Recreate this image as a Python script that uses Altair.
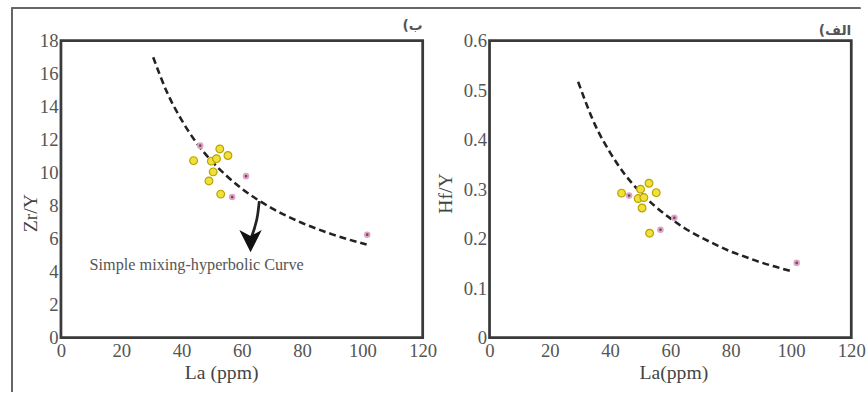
import altair as alt
import pandas as pd

# ---- data ----
# Left panel: Zr/Y vs La
zr_yellow_la = [44.0, 49.1, 50.5, 49.9, 52.7, 55.4, 53.0, 51.6]
zr_yellow_val = [10.73, 9.5, 10.05, 10.7, 11.44, 11.04, 8.7, 10.85]
zr_purple_la = [46.2, 61.4, 56.8, 101.6]
zr_purple_val = [11.64, 9.79, 8.52, 6.24]
zr_curve_la = [30.6, 35, 40, 45, 50, 55, 60, 65, 70, 75, 80, 85, 90, 95, 101.4]
zr_curve_val = [17.0, 14.95, 13.2, 11.8, 10.7, 9.8, 9.03, 8.39, 7.84, 7.37, 6.95, 6.59, 6.26, 5.97, 5.64]
arrow_la = [65.8, 65.3, 64.3, 63.2]
arrow_val = [8.27, 7.5, 6.7, 6.1]
arrowhead_la = [62.9]
arrowhead_val = [5.85]
note_text = ["Simple mixing-hyperbolic Curve"]
note_la = [9.5]
note_val = [4.41]

# Right panel: Hf/Y vs La
hf_yellow_la = [43.8, 50.1, 52.9, 55.3, 49.3, 51.2, 50.6, 53.1]
hf_yellow_val = [0.292, 0.300, 0.312, 0.293, 0.281, 0.283, 0.262, 0.211]
hf_purple_la = [46.3, 61.3, 56.7, 101.9]
hf_purple_val = [0.287, 0.242, 0.218, 0.151]
hf_curve_la = [29.4, 35, 40, 45, 50, 55, 60, 65, 70, 75, 80, 85, 90, 95, 100.8]
hf_curve_val = [0.517, 0.43, 0.374, 0.329, 0.294, 0.265, 0.241, 0.220, 0.203, 0.188, 0.174, 0.163, 0.152, 0.143, 0.133]

x_ticks = [0, 20, 40, 60, 80, 100, 120]
zr_ticks = [0, 2, 4, 6, 8, 10, 12, 14, 16, 18]
hf_ticks = [0, 0.1, 0.2, 0.3, 0.4, 0.5, 0.6]
panel_labels = ["ب)\u200f", "الف)\u200f"]

SERIF = "Liberation Serif, Times New Roman, serif"
W, H = 368, 302

def df(xs, ys):
    return pd.DataFrame({"x": xs, "y": ys})

def make_axes(yticks, ytitle, xtitle, xtitle_x, ytitle_x, ytitle_y, ylabel_expr):
    xax = alt.Axis(values=x_ticks, title=xtitle, titleX=xtitle_x, titleY=26,
                   titleFont=SERIF, titleFontSize=20, titleFontWeight="normal",
                   titleColor="#444", labelFont=SERIF, labelFontSize=19,
                   labelColor="#555", ticks=False, domain=False, grid=False,
                   labelPadding=4, labelFlush=False, labelOverlap=False)
    yax = alt.Axis(values=yticks, title=ytitle, titleX=ytitle_x, titleY=ytitle_y,
                   titleFont=SERIF, titleFontSize=20, titleFontWeight="normal",
                   titleColor="#444", labelFont=SERIF, labelFontSize=19,
                   labelColor="#555", ticks=False, domain=False, grid=False,
                   labelPadding=3, labelExpr=ylabel_expr, labelFlush=False,
                   labelOverlap=False)
    return xax, yax

def panel(ydom, axes, curve, yellow, purple, label, label_y, extra=None,
          frame_left=None, top_span=(0, 0)):
    xax, yax = axes
    xs = alt.Scale(domain=[0, 120], nice=False)
    ys = alt.Scale(domain=ydom, nice=False)
    X = alt.X("x:Q", scale=xs, axis=xax)
    Y = alt.Y("y:Q", scale=ys, axis=yax)

    line = alt.Chart(curve).mark_line(color="#222", strokeWidth=2.6,
                                      strokeDash=[7, 4], interpolate="monotone").encode(
        x=X, y=Y)
    yel = alt.Chart(yellow).mark_point(shape="circle", filled=True, size=62,
                                       fill="#f1e03a", stroke="#b7a300",
                                       strokeWidth=1.2, opacity=1).encode(x=X, y=Y)
    pur = alt.Chart(purple).mark_point(shape="circle", filled=True, size=22,
                                       fill="#8a3a68", stroke="#d9a7c4",
                                       strokeWidth=2, opacity=1).encode(x=X, y=Y)
    layers = [line, yel, pur]
    if extra:
        layers += [e(X, Y) for e in extra]
    lab = alt.Chart(pd.DataFrame({"t": [label]})).mark_text(
        align="right", baseline="middle", font="DejaVu Sans", fontSize=14,
        fontWeight="bold", color="#555").encode(
        text="t:N", x=alt.value(W), y=alt.value(label_y))
    layers.append(lab)
    top_rule = alt.Chart(curve).mark_rule(color="#666", strokeWidth=1.5).encode(
        x=alt.value(top_span[0]), x2=alt.value(top_span[1]), y=alt.value(-33))
    layers.append(top_rule)
    if frame_left is not None:
        left_rule = alt.Chart(curve).mark_rule(color="#666", strokeWidth=1.5).encode(
            x=alt.value(frame_left), y=alt.value(-33), y2=alt.value(357))
        layers.append(left_rule)
    return alt.layer(*layers).properties(width=W, height=H)

def arrow_line(X, Y):
    return alt.Chart(df(arrow_la, arrow_val)).mark_line(
        color="#222", strokeWidth=2.8, interpolate="monotone").encode(x=X, y=Y)

def arrow_head(X, Y):
    return alt.Chart(df(arrowhead_la, arrowhead_val)).mark_point(
        shape="M-1,-1 L0,1 L1,-1 L0,-0.45 Z", filled=True, size=520,
        color="#111", opacity=1).encode(x=X, y=Y)

def note(X, Y):
    return alt.Chart(pd.DataFrame({"x": note_la, "y": note_val, "t": note_text})).mark_text(
        align="left", baseline="middle", font=SERIF, fontSize=16.5, color="#555").encode(
        x=X, y=Y, text="t:N")

left = panel([0, 18],
             make_axes(zr_ticks, "Zr/Y", "La (ppm)", 163, -21, 175, "datum.label"),
             df(zr_curve_la, zr_curve_val), df(zr_yellow_la, zr_yellow_val),
             df(zr_purple_la, zr_purple_val), panel_labels[0], -15,
             extra=[arrow_line, arrow_head, note], frame_left=-50,
             top_span=(-50, 400))

right = panel([0, 0.6],
              make_axes(hf_ticks, "Hf/Y", "La(ppm)", 187, -35, 155,
                        "datum.value == 0 ? '0' : format(datum.value, '.1f')"),
              df(hf_curve_la, hf_curve_val), df(hf_yellow_la, hf_yellow_val),
              df(hf_purple_la, hf_purple_val), panel_labels[1], -10,
              top_span=(-70, 377))

chart = alt.hconcat(left, right, spacing=68, bounds="flush").properties(
    padding={"left": 9, "top": 2, "right": 0, "bottom": 0},
    background="white",
).configure_view(stroke="#3a3a3a", strokeWidth=2.8).configure_concat(
    spacing=68).configure_axis(labelFont=SERIF, titleFont=SERIF)

chart.save("out.html", embed_options={"renderer": "svg", "actions": False})
